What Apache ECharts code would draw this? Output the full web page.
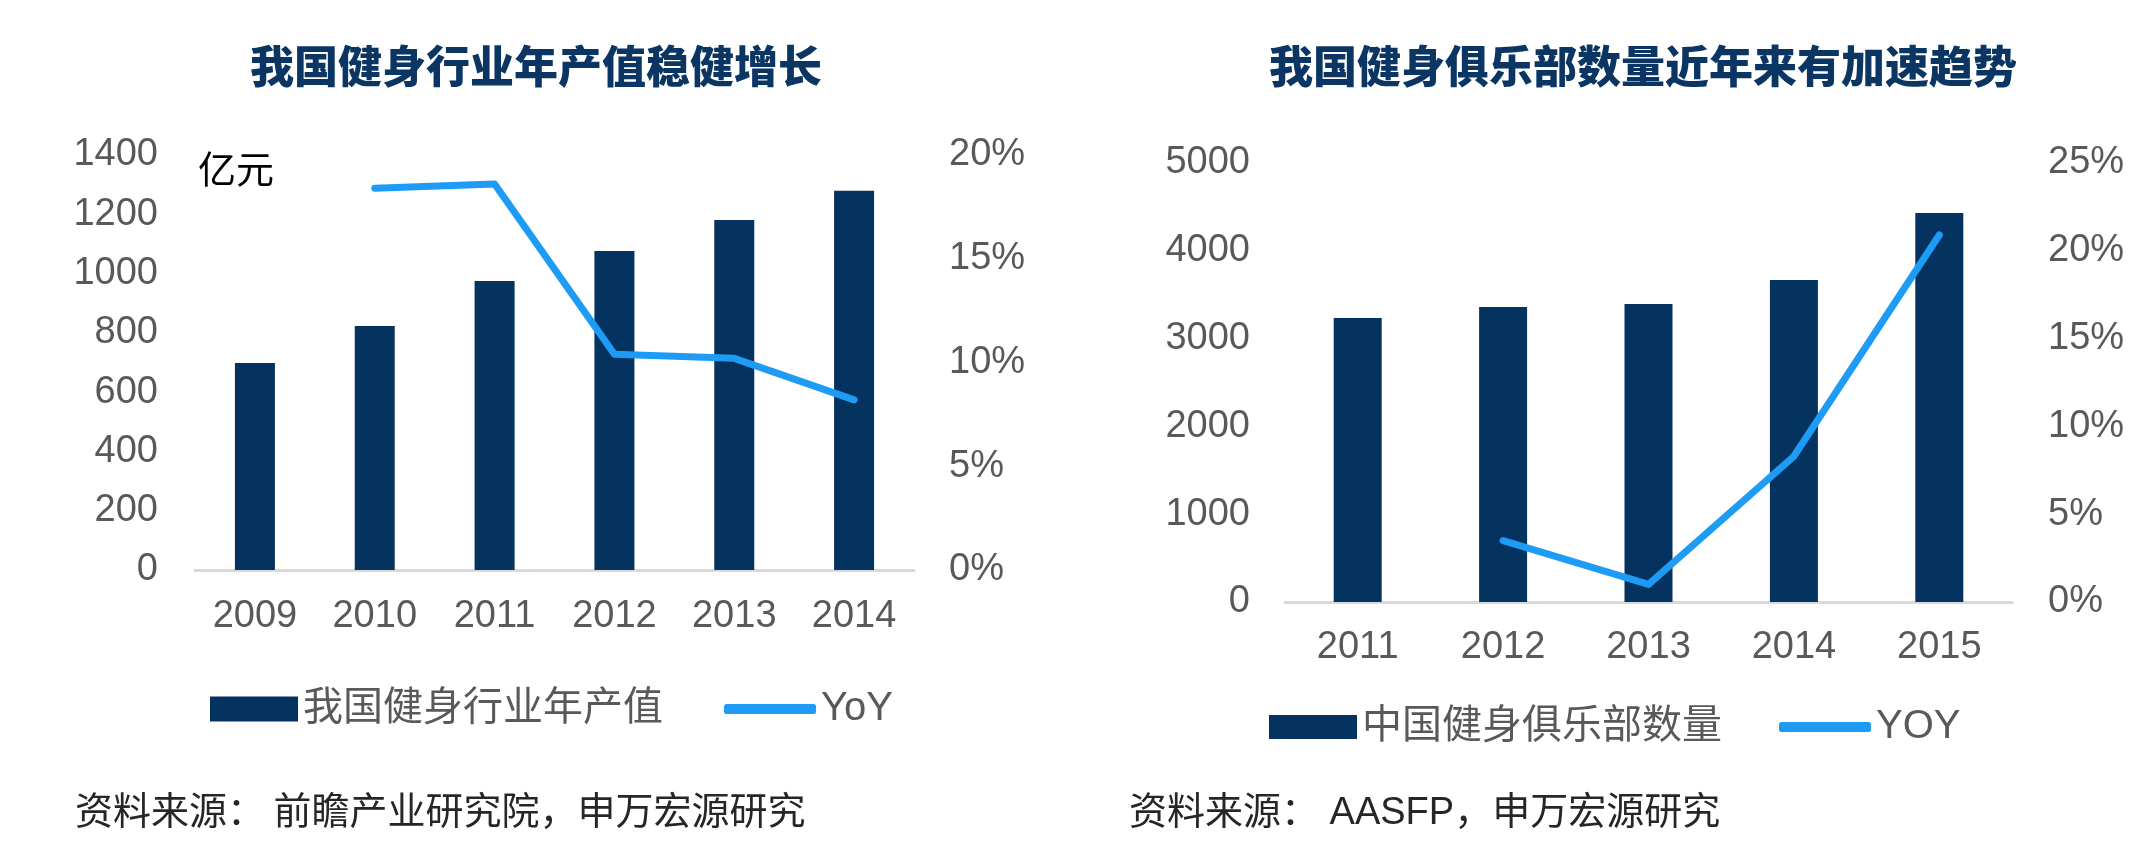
<!DOCTYPE html>
<html>
<head>
<meta charset="utf-8">
<title>健身行业</title>
<script src="https://cdn.jsdelivr.net/npm/echarts@6/dist/echarts.min.js"></script>
<style>
  html, body { margin: 0; padding: 0; background: #fff; }
  #main { width: 2142px; height: 864px; }
</style>
</head>
<body>
<div id="main"></div>
<script>
// 左图：我国健身行业年产值（亿元）
var years1 = ['2009', '2010', '2011', '2012', '2013', '2014'];
var output1 = [698, 823, 975, 1076, 1181, 1279];
var yoy1 = [null, 18.4, 18.6, 10.4, 10.2, 8.2];

// 右图：中国健身俱乐部数量
var years2 = ['2011', '2012', '2013', '2014', '2015'];
var clubs2 = [3235, 3360, 3394, 3667, 4431];
var yoy2 = [null, 3.5, 1.0, 8.3, 20.9];

var NAVY = '#05335F';
var BLUE = '#1E9BF5';
var GREY = '#595959';
var FONT = '"Liberation Sans", Arial, "Noto Sans CJK SC", sans-serif';

var chart = echarts.init(document.getElementById('main'));

function label(margin, fmt) {
    return {
        color: GREY,
        fontSize: 38,
        fontFamily: FONT,
        margin: margin,
        formatter: fmt || function (v) { return String(v); }
    };
}

function legendItem(name, left, top, w, h, icon, color) {
    return {
        data: [{ name: name, icon: icon, itemStyle: { color: color } }],
        left: left,
        top: top,
        padding: 0,
        itemWidth: w,
        itemHeight: h,
        selectedMode: false,
        textStyle: { color: GREY, fontSize: 40, lineHeight: 40, fontFamily: FONT }
    };
}

var option = {
    animation: false,
    backgroundColor: '#fff',
    textStyle: { fontFamily: FONT },
    grid: [
        { left: 195, right: 1228, top: 155, bottom: 294 },
        { left: 1285, right: 130, top: 163, bottom: 262 }
    ],
    xAxis: [
        {
            type: 'category', gridIndex: 0, data: years1,
            axisLine: { lineStyle: { color: '#D9D9D9', width: 3 } },
            axisTick: { show: false },
            axisLabel: label(28)
        },
        {
            type: 'category', gridIndex: 1, data: years2,
            axisLine: { lineStyle: { color: '#D9D9D9', width: 3 } },
            axisTick: { show: false },
            axisLabel: label(27)
        }
    ],
    yAxis: [
        {
            type: 'value', gridIndex: 0, min: 0, max: 1400, interval: 200,
            splitLine: { show: false }, axisLine: { show: false },
            axisLabel: label(37)
        },
        {
            type: 'value', gridIndex: 0, min: 0, max: 20, interval: 5, position: 'right',
            splitLine: { show: false }, axisLine: { show: false },
            axisLabel: label(35, '{value}%')
        },
        {
            type: 'value', gridIndex: 1, min: 0, max: 5000, interval: 1000,
            splitLine: { show: false }, axisLine: { show: false },
            axisLabel: label(35)
        },
        {
            type: 'value', gridIndex: 1, min: 0, max: 25, interval: 5, position: 'right',
            splitLine: { show: false }, axisLine: { show: false },
            axisLabel: label(36, '{value}%')
        }
    ],
    legend: [
        legendItem('我国健身行业年产值', 210, 689, 88, 25, 'rect', NAVY),
        legendItem('YoY', 724, 689, 92, 10, 'roundRect', BLUE),
        legendItem('中国健身俱乐部数量', 1269, 707, 88, 24, 'rect', NAVY),
        legendItem('YOY', 1779, 707, 92, 10, 'roundRect', BLUE)
    ],
    series: [
        {
            name: '我国健身行业年产值', type: 'bar', xAxisIndex: 0, yAxisIndex: 0,
            data: output1, barWidth: 40,
            itemStyle: { color: NAVY }
        },
        {
            name: 'YoY', type: 'line', xAxisIndex: 0, yAxisIndex: 1,
            data: yoy1, showSymbol: false, connectNulls: false,
            itemStyle: { color: BLUE },
            lineStyle: { color: BLUE, width: 7, cap: 'round', join: 'round' }
        },
        {
            name: '中国健身俱乐部数量', type: 'bar', xAxisIndex: 1, yAxisIndex: 2,
            data: clubs2, barWidth: 48,
            itemStyle: { color: NAVY }
        },
        {
            name: 'YOY', type: 'line', xAxisIndex: 1, yAxisIndex: 3,
            data: yoy2, showSymbol: false, connectNulls: false,
            itemStyle: { color: BLUE },
            lineStyle: { color: BLUE, width: 7, cap: 'round', join: 'round' }
        }
    ],
    graphic: [
        {
            type: 'text', left: 250, top: 44,
            style: {
                text: '我国健身行业年产值稳健增长',
                fill: '#0B3563', font: '900 44px "Noto Sans CJK SC", sans-serif'
            }
        },
        {
            type: 'text', left: 1269, top: 44,
            style: {
                text: '我国健身俱乐部数量近年来有加速趋势',
                fill: '#0B3563', font: '900 44px "Noto Sans CJK SC", sans-serif'
            }
        },
        {
            type: 'text', left: 198, top: 150,
            style: { text: '亿元', fill: '#000', font: '38px "Noto Sans CJK SC", sans-serif' }
        },
        {
            type: 'text', left: 75, top: 791,
            style: {
                text: '资料来源： 前瞻产业研究院，申万宏源研究',
                fill: '#262626', font: '38px "Noto Sans CJK SC", sans-serif'
            }
        },
        {
            type: 'text', left: 1129, top: 795,
            style: {
                text: '资料来源： AASFP，申万宏源研究',
                fill: '#262626', font: '38px "Liberation Sans", "Noto Sans CJK SC", sans-serif'
            }
        }
    ]
};

chart.setOption(option);
</script>
</body>
</html>
